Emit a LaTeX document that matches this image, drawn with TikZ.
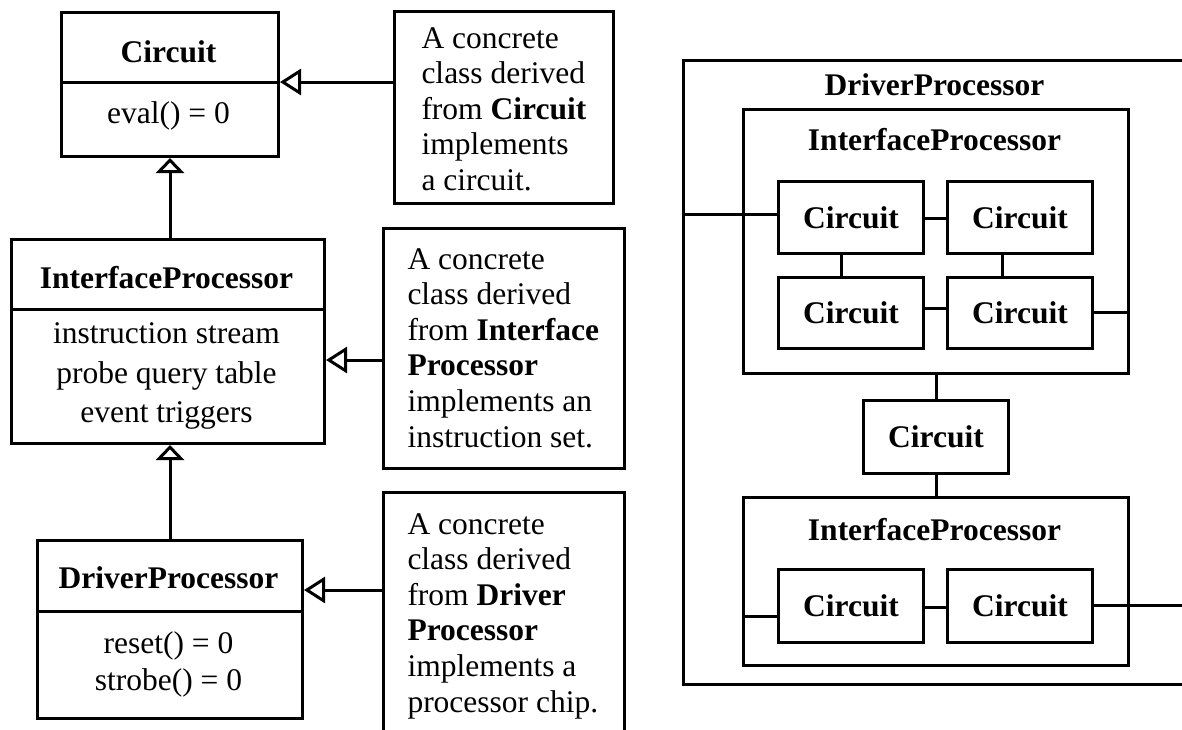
\documentclass[tikz,border=0pt]{standalone}
\usepackage{fontspec}
\setmainfont{Liberation Serif}
\usetikzlibrary{arrows.meta}
\begin{document}
\begin{tikzpicture}[x=1pt,y=-1pt,
  line width=3pt,
  box/.style={draw, line width=3pt, inner sep=0pt, anchor=north west},
  cbox/.style={box, minimum width=145pt, font=\fontsize{31.5}{36}\selectfont\bfseries},
  txt/.style={font=\fontsize{31.5}{36}\selectfont, inner sep=0pt},
  btxt/.style={font=\fontsize{31.5}{36}\selectfont\bfseries, inner sep=0pt},
  genh/.style={-{Triangle[open, length=21pt, width=26pt]}},
  genv/.style={-{Triangle[open, length=15pt, width=28pt]}},
  wire/.style={line width=3pt}
]
\useasboundingbox (0,0) rectangle (1182,729);
\clip (0,0) rectangle (1182,729);

% ---------- left: class diagram ----------
\node[box, minimum width=217pt, minimum height=144pt] (circ) at (60,11) {};
\draw[wire] (circ.west |- 0,82) -- (circ.east |- 0,82);
\node[btxt, anchor=base] (circT) at (168.5,62) {Circuit};
\node[txt, anchor=base] (circB) at (168.5,123) {eval() = 0};

\node[box, minimum width=313pt, minimum height=204pt] (ip) at (10,238) {};
\draw[wire] (ip.west |- 0,309) -- (ip.east |- 0,309);
\node[btxt, anchor=base] (ipT) at (166.5,288) {InterfaceProcessor};
\node[txt, anchor=north, align=center, font=\fontsize{31.5}{39.5}\selectfont] (ipB) at (166.5,321.5)
  {instruction stream\\probe query table\\event triggers};

\node[box, minimum width=265pt, minimum height=178pt] (dp) at (36,539) {};
\draw[wire] (dp.west |- 0,611) -- (dp.east |- 0,611);
\node[btxt, anchor=base] (dpT) at (168.5,588) {DriverProcessor};
\node[txt, anchor=north, align=center, font=\fontsize{31.5}{37}\selectfont] (dpB) at (168.5,630.5)
  {reset() = 0\\strobe() = 0};

% notes
\node[box, minimum width=219pt, minimum height=192pt] (note1) at (393,10) {};
\node[txt, anchor=north west, align=left, font=\fontsize{31.5}{35.6}\selectfont] (note1T) at (420,25.7)
  {A concrete\\class derived\\from \textbf{Circuit}\\implements\\a circuit.};

\node[box, minimum width=241pt, minimum height=240pt] (note2) at (382,227) {};
\node[txt, anchor=north west, align=left, font=\fontsize{31.5}{35.6}\selectfont] (note2T) at (406,246.7)
  {A concrete\\class derived\\from \textbf{Interface}\\\textbf{Processor}\\implements an\\instruction set.};

\node[box, minimum width=241pt, minimum height=260pt] (note3) at (382,491) {};
\node[txt, anchor=north west, align=left, font=\fontsize{31.5}{35.6}\selectfont] (note3T) at (406,511.7)
  {A concrete\\class derived\\from \textbf{Driver}\\\textbf{Processor}\\implements a\\processor chip.};

% generalisation connectors
\draw[genh] (note1.west |- 0,82) -- (circ.east |- 0,82);
\draw[genh] (note2.west |- 0,360) -- (ip.east |- 0,360);
\draw[genh] (note3.west |- 0,590) -- (dp.east |- 0,590);
\draw[genv] (circ.south |- ip.north) -- (circ.south);
\draw[genv] (dp.north) -- (dp.north |- ip.south);

% ---------- right: composition ----------
\node[box, minimum width=505pt, minimum height=624pt] (outer) at (682,59) {};
\node[btxt, anchor=base] (outerT) at (934.5,95) {DriverProcessor};

\node[box, minimum width=385pt, minimum height=264pt] (ip1) at (742,108) {};
\node[btxt, anchor=base] (ip1T) at (934.5,150) {InterfaceProcessor};
\node[cbox, minimum height=72pt] (c1) at (777,180) {Circuit};
\node[cbox, minimum height=72pt] (c2) at (946,180) {Circuit};
\node[cbox, minimum height=71pt] (c3) at (777,276) {Circuit};
\node[cbox, minimum height=71pt] (c4) at (946,276) {Circuit};

\node[cbox, minimum height=73pt] (cm) at (862,399) {Circuit};

\node[box, minimum width=385pt, minimum height=168pt] (ip2) at (742,496) {};
\node[btxt, anchor=base] (ip2T) at (934.5,540) {InterfaceProcessor};
\node[cbox, minimum height=73pt] (c5) at (777,568) {Circuit};
\node[cbox, minimum height=73pt] (c6) at (946,568) {Circuit};

\draw[wire] (outer.west |- 0,214) -- (c1.west |- 0,214);
\draw[wire] (c1.east |- 0,218) -- (c2.west |- 0,218);
\draw[wire] ([xshift=-10pt]c1.south) -- ([xshift=-10pt]c3.north);
\draw[wire] ([xshift=-18pt]c2.south) -- ([xshift=-18pt]c4.north);
\draw[wire] (c3.east |- 0,308) -- (c4.west |- 0,308);
\draw[wire] (c4.east |- 0,312) -- (ip1.east |- 0,312);
\draw[wire] (ip1.south) -- (cm.north);
\draw[wire] (cm.south) -- (ip2.north);
\draw[wire] (ip2.west |- 0,616) -- (c5.west |- 0,616);
\draw[wire] (c5.east |- 0,607) -- (c6.west |- 0,607);
\draw[wire] (c6.east |- 0,605) -- (outer.east |- 0,605);
\end{tikzpicture}
\end{document}
